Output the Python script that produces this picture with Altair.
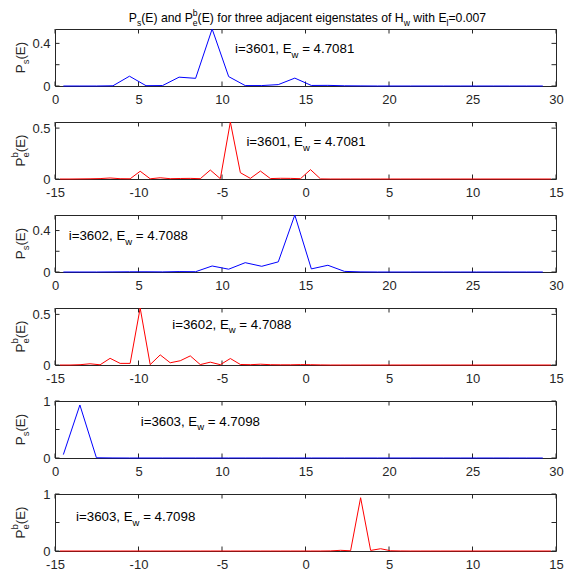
import altair as alt
import pandas as pd

FONT = "Liberation Sans"
AX = "#262626"
W, H = 501, 57

# ---- data ----
E_s = [0.50, 1.49, 2.48, 3.47, 4.46, 5.45, 6.44, 7.43, 8.42, 9.41,
       10.40, 11.39, 12.38, 13.37, 14.36, 15.35, 16.34, 17.33, 18.32, 19.31,
       20.30, 21.29, 22.28, 23.27, 24.26, 25.25, 26.24, 27.23, 28.22, 29.21]
Ps_3601 = [0.0, 0.0, 0.0, 0.002, 0.092, 0.003, 0.004, 0.083, 0.072, 0.535,
           0.088, 0.004, 0.004, 0.013, 0.074, 0.005, 0.006, 0.002, 0.001, 0.0,
           0.0, 0.0, 0.0, 0.0, 0.0, 0.0, 0.0, 0.0, 0.0, 0.0]
Ps_3602 = [0.0, 0.0, 0.0, 0.001, 0.002, 0.002, 0.001, 0.004, 0.003, 0.058,
           0.027, 0.090, 0.055, 0.098, 0.550, 0.030, 0.065, 0.006, 0.001, 0.0,
           0.0, 0.0, 0.0, 0.0, 0.0, 0.0, 0.0, 0.0, 0.0, 0.0]
Ps_3603 = [0.06, 0.93, 0.004, 0.001, 0.0, 0.0, 0.0, 0.0, 0.0, 0.0,
           0.0, 0.0, 0.0, 0.0, 0.0, 0.0, 0.0, 0.0, 0.0, 0.0,
           0.0, 0.0, 0.0, 0.0, 0.0, 0.0, 0.0, 0.0, 0.0, 0.0]

E_e = [-14.7, -14.1, -13.5, -12.9, -12.3, -11.7, -11.1, -10.5, -9.9, -9.3,
       -8.7, -8.1, -7.5, -6.9, -6.3, -5.7, -5.1, -4.5, -3.9, -3.3,
       -2.7, -2.1, -1.5, -0.9, -0.3, 0.3, 0.9, 1.5, 2.1, 2.7,
       3.3, 3.9, 4.5, 5.1, 5.7, 6.3, 6.9, 7.5, 8.1, 8.7,
       9.3, 9.9, 10.5, 11.1, 11.7, 12.3, 12.9, 13.5, 14.1, 14.7]
Pe_3601 = [0.0, 0.0, 0.001, 0.002, 0.004, 0.010, 0.003, 0.002, 0.076, 0.002,
           0.012, 0.003, 0.005, 0.006, 0.003, 0.088, 0.003, 0.560, 0.062, 0.006,
           0.078, 0.004, 0.007, 0.006, 0.003, 0.092, 0.001, 0.0, 0.0, 0.0,
           0.0, 0.0, 0.0, 0.0, 0.0, 0.0, 0.0, 0.0, 0.0, 0.0,
           0.0, 0.0, 0.0, 0.0, 0.0, 0.0, 0.0, 0.0, 0.0, 0.0]
Pe_3602 = [0.0, 0.0, 0.003, 0.012, 0.002, 0.066, 0.016, 0.016, 0.563, 0.004,
           0.100, 0.022, 0.042, 0.090, 0.004, 0.028, 0.003, 0.064, 0.005, 0.003,
           0.008, 0.003, 0.002, 0.002, 0.004, 0.003, 0.001, 0.0, 0.0, 0.0,
           0.0, 0.0, 0.0, 0.0, 0.0, 0.0, 0.0, 0.0, 0.0, 0.0,
           0.0, 0.0, 0.0, 0.0, 0.0, 0.0, 0.0, 0.0, 0.0, 0.0]
Pe_3603 = [0.0, 0.0, 0.0, 0.0, 0.0, 0.0, 0.0, 0.0, 0.0, 0.0,
           0.0, 0.0, 0.0, 0.0, 0.0, 0.0, 0.0, 0.0, 0.0, 0.0,
           0.0, 0.0, 0.0, 0.0, 0.0, 0.0, 0.0, 0.002, 0.012, 0.004,
           0.935, 0.010, 0.040, 0.004, 0.001, 0.0, 0.0, 0.0, 0.0, 0.0,
           0.0, 0.0, 0.0, 0.0, 0.0, 0.0, 0.0, 0.0, 0.0, 0.0]

states = ["3601", "3602", "3603"]
Ew = ["4.7081", "4.7088", "4.7098"]
xticks_s = [0, 5, 10, 15, 20, 25, 30]
xticks_e = [-15, -10, -5, 0, 5, 10, 15]
yticks_small = [0, 0.2, 0.4]
yticks_half = [0, 0.5]
yticks_one = [0, 0.5, 1]
ymax = [0.535, 0.56, 0.55, 0.563, 1.0, 1.0]
ann_x = [10.78, -3.54, 0.82, -7.98, 5.13, -13.74]
ann_y = [0.306, 0.321, 0.307, 0.360, 0.564, 0.524]

# ---- text helpers (Arial / Liberation Sans advance widths) ----
ARIAL = {' ': 278, '(': 333, ')': 333, ',': 278, '-': 333, '.': 278, '=': 584,
         'A': 667, 'B': 667, 'C': 722, 'D': 722, 'E': 667, 'F': 611, 'G': 778,
         'H': 722, 'I': 278, 'P': 667, 'S': 667,
         'a': 556, 'b': 556, 'c': 500, 'd': 556, 'e': 556, 'f': 278, 'g': 556,
         'h': 556, 'i': 222, 'j': 222, 'k': 500, 'l': 222, 'm': 833, 'n': 556,
         'o': 556, 'p': 556, 'q': 556, 'r': 333, 's': 500, 't': 278, 'u': 556,
         'v': 500, 'w': 722, 'x': 500, 'y': 500, 'z': 500}
for d in "0123456789":
    ARIAL[d] = 556


def width(s, size):
    return sum(ARIAL.get(c, 556) for c in s) / 1000.0 * size


def layout(segs, size, small, sub_dy, sup_dy):
    items = []
    state = {"cur": 0.0}

    def put(txt, sz, dy):
        lead = len(txt) - len(txt.lstrip(' '))
        core = txt.strip(' ')
        if core:
            items.append((core, sz, state["cur"] + width(' ' * lead, sz), dy))
        return width(txt, sz)

    for seg in segs:
        kind = seg[0]
        if kind == 'n':
            state["cur"] += put(seg[1], size, 0)
        elif kind == 'sub':
            state["cur"] += put(seg[1], small, sub_dy)
        elif kind == 'sup':
            state["cur"] += put(seg[1], small, sup_dy)
        else:
            a = put(seg[1], small, sub_dy)
            b = put(seg[2], small, sup_dy)
            state["cur"] += max(a, b)
    return items, state["cur"]


ONE = pd.DataFrame({"one": [1]})


def text_layers(items, x, y, base_dx=0.0, angle=0, color="#000000"):
    out = []
    for t, sz, dx, dy in items:
        kw = dict(text=t, align="left", baseline="alphabetic", font=FONT,
                  fontSize=sz, dx=base_dx + dx, dy=dy, color=color)
        if angle:
            kw["angle"] = angle
        out.append(alt.Chart(ONE).mark_text(**kw).encode(x=x, y=y))
    return out


def panel(E, P, color, xdom, xt, ym, yt, ylab, ann, ax, ay, extra=None):
    xs = alt.Scale(domain=xdom, nice=False, zero=False)
    ys = alt.Scale(domain=[0, ym], nice=False, zero=False)
    xa = alt.Axis(values=xt, title=None, grid=False, ticks=False, domain=False,
                  labelFlush=False, labelOverlap=False, labelPadding=7,
                  labelExpr="datum.value + ''")
    ya = alt.Axis(values=yt, title=None, grid=False, ticks=False, domain=False,
                  labelPadding=5, labelOverlap=False, labelExpr="datum.value + ''")
    X = alt.X("E:Q", scale=xs, axis=xa)
    Y = alt.Y("P:Q", scale=ys, axis=ya)
    tx = pd.DataFrame({"E": xt})
    ty = pd.DataFrame({"P": yt})
    tl = 4.5
    layers = [
        alt.Chart(tx).mark_rule(color=AX, strokeWidth=1).encode(x=X, y=alt.value(H), y2=alt.value(H - tl)),
        alt.Chart(tx).mark_rule(color=AX, strokeWidth=1).encode(x=X, y=alt.value(0), y2=alt.value(tl)),
        alt.Chart(ty).mark_rule(color=AX, strokeWidth=1).encode(y=Y, x=alt.value(0), x2=alt.value(tl)),
        alt.Chart(ty).mark_rule(color=AX, strokeWidth=1).encode(y=Y, x=alt.value(W), x2=alt.value(W - tl)),
        alt.Chart(pd.DataFrame({"E": E, "P": P})).mark_line(color=color, strokeWidth=1).encode(x=X, y=Y),
    ]
    # annotation
    items, _ = layout(ann, 13.3, 9.5, 4.4, -7.0)
    layers += text_layers(items, alt.datum(ax), alt.datum(ay))
    # y label (rotated)
    items, tot = layout(ylab, 13.3, 9.5, 4.2, -7.0)
    layers += text_layers(items, alt.value(-30), alt.value(H / 2), base_dx=-tot / 2,
                          angle=270, color=AX)
    if extra:
        layers += extra
    return alt.layer(*layers).properties(width=W, height=H)


ylab_s = [('n', 'P'), ('sub', 's'), ('n', '(E)')]
ylab_e = [('n', 'P'), ('subsup', 'e', 'b'), ('n', '(E)')]


def ann(i):
    return [('n', 'i=' + states[i] + ', E'), ('sub', 'w'), ('n', ' = ' + Ew[i])]


title_segs = [('n', 'P'), ('sub', 's'), ('n', '(E) and P'), ('subsup', 'e', 'b'),
              ('n', '(E) for three adjacent eigenstates of H'), ('sub', 'w'),
              ('n', ' with E'), ('sub', 'l'), ('n', '=0.007')]
t_items, t_tot = layout(title_segs, 12.2, 8.6, 4.0, -6.5)
title_layers = text_layers(t_items, alt.value(W / 2 + 2), alt.value(-7), base_dx=-t_tot / 2)
anchor = alt.Chart(ONE).mark_point(filled=True, size=1, opacity=0, strokeWidth=0).encode(
    x=alt.value(-54), y=alt.value(-27.8))

p1 = panel(E_s, Ps_3601, "#0000ff", [0, 30], xticks_s, ymax[0], yticks_small, ylab_s, ann(0),
           ann_x[0], ann_y[0], extra=title_layers + [anchor])
p2 = panel(E_e, Pe_3601, "#ff0000", [-15, 15], xticks_e, ymax[1], yticks_half, ylab_e, ann(0),
           ann_x[1], ann_y[1])
p3 = panel(E_s, Ps_3602, "#0000ff", [0, 30], xticks_s, ymax[2], yticks_small, ylab_s, ann(1),
           ann_x[2], ann_y[2])
p4 = panel(E_e, Pe_3602, "#ff0000", [-15, 15], xticks_e, ymax[3], yticks_half, ylab_e, ann(1),
           ann_x[3], ann_y[3])
p5 = panel(E_s, Ps_3603, "#0000ff", [0, 30], xticks_s, ymax[4], yticks_one, ylab_s, ann(2),
           ann_x[4], ann_y[4])
p6 = panel(E_e, Pe_3603, "#ff0000", [-15, 15], xticks_e, ymax[5], yticks_one, ylab_e, ann(2),
           ann_x[5], ann_y[5])

chart = alt.vconcat(p1, p2, p3, p4, p5, p6, spacing=36, bounds="flush").properties(
    padding={"left": 0, "top": 0, "right": 0, "bottom": 0}
).configure_view(stroke=AX, strokeWidth=1).configure_axis(
    labelFont=FONT, labelFontSize=13, labelColor=AX
)

chart.save("out.html", embed_options={"renderer": "svg", "actions": False})
